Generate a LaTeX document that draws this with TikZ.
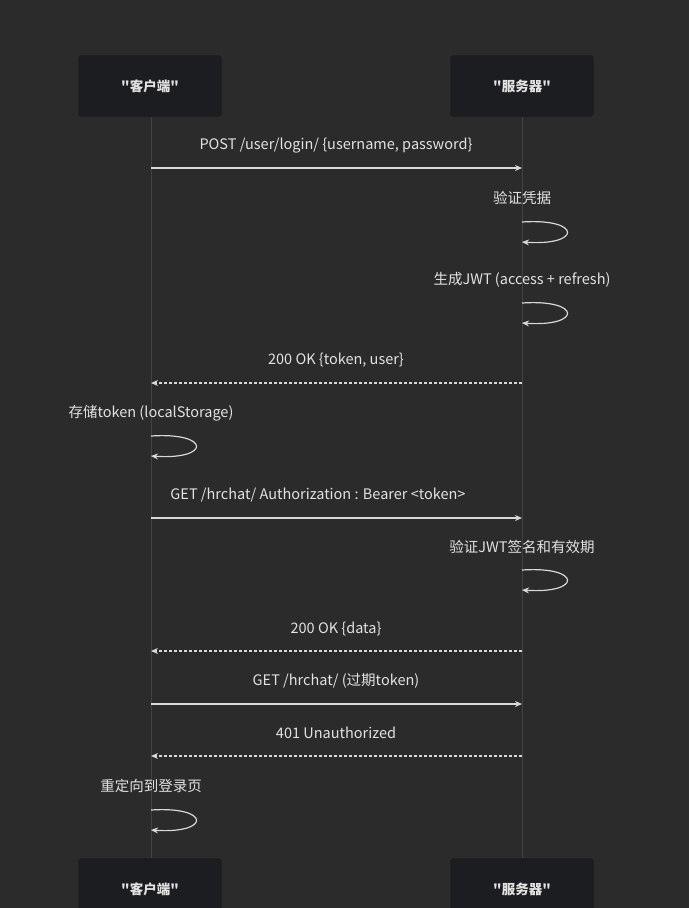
\documentclass[tikz,border=0pt]{standalone}
\usepackage{fontspec}
\setmainfont{Noto Sans CJK SC}[Ligatures=TeXOff]
\usetikzlibrary{arrows.meta}
\definecolor{bg}{HTML}{2B2B2B}
\definecolor{boxc}{HTML}{1C1D20}
\definecolor{boxb}{HTML}{34373C}
\definecolor{life}{HTML}{3E434A}
\definecolor{txt}{HTML}{E2E2E2}
\definecolor{arr}{HTML}{D8D8D8}
\tikzset{
 actor/.style={draw=boxb,fill=boxc,rounded corners=2pt,minimum width=144pt,minimum height=62pt,text=txt,font=\fontsize{13.5}{15}\selectfont\bfseries,inner sep=0pt},
 lbl/.style={text=txt,font=\fontsize{14.5}{16}\selectfont,inner sep=0pt},
 msg/.style={draw=arr,line width=1.2pt,-{Stealth[length=7pt,width=6pt]}},
 rmsg/.style={msg,dashed,dash pattern=on 3pt off 2pt},
 lifel/.style={draw=life,line width=1pt}
}
\begin{document}
\begin{tikzpicture}[x=1pt,y=-1pt]
\fill[bg] (0,0) rectangle (689,908);
\useasboundingbox (0,0) rectangle (689,908);
\node[actor] (c1) at (150,86) {"客户端"};
\node[actor] (s1) at (522,86) {"服务器"};
\node[actor] (c2) at (150,889) {"客户端"};
\node[actor] (s2) at (522,889) {"服务器"};
\draw[lifel] (151,117) -- (151,858);
\draw[lifel] (522,117) -- (522,858);
\foreach \n/\y in {a/168,b/383,c/518,d/651,e/704,f/756}{
 \coordinate (c\n) at (151,\y); \coordinate (s\n) at (522,\y);}
\node[lbl] (t1) at (336,146) {POST /user/login/ \{username, password\}};
\draw[msg] (ca) -- (sa);
\node[lbl] (t2) at (522,198) {验证凭据};
\coordinate (l1a) at (522,222); \coordinate (l1b) at (522,242);
\draw[msg] (l1a) .. controls (582,218) and (582,246) .. (l1b);
\node[lbl] (t3) at (522,280) {生成JWT (access + refresh)};
\coordinate (l2a) at (522,303); \coordinate (l2b) at (522,323);
\draw[msg] (l2a) .. controls (582,299) and (582,327) .. (l2b);
\node[lbl] (t4) at (336,360) {200 OK \{token, user\}};
\draw[rmsg] (sb) -- (cb);
\node[lbl] (t5) at (151,413) {存储token (localStorage)};
\coordinate (l3a) at (151,436); \coordinate (l3b) at (151,456);
\draw[msg] (l3a) .. controls (211,432) and (211,460) .. (l3b);
\node[lbl] (t6) at (318,495) {GET /hrchat/ Authorization : Bearer <token>};
\draw[msg] (cc) -- (sc);
\node[lbl] (t7) at (522,547) {验证JWT签名和有效期};
\coordinate (l4a) at (522,570); \coordinate (l4b) at (522,590);
\draw[msg] (l4a) .. controls (582,566) and (582,594) .. (l4b);
\node[lbl] (t8) at (336,629) {200 OK \{data\}};
\draw[rmsg] (sd) -- (cd);
\node[lbl] (t9) at (336,681) {GET /hrchat/ (过期token)};
\draw[msg] (ce) -- (se);
\node[lbl] (t10) at (336,733) {401 Unauthorized};
\draw[rmsg] (sf) -- (cf);
\node[lbl] (t11) at (151,786) {重定向到登录页};
\coordinate (l5a) at (151,810); \coordinate (l5b) at (151,830);
\draw[msg] (l5a) .. controls (211,806) and (211,834) .. (l5b);
\end{tikzpicture}
\end{document}
